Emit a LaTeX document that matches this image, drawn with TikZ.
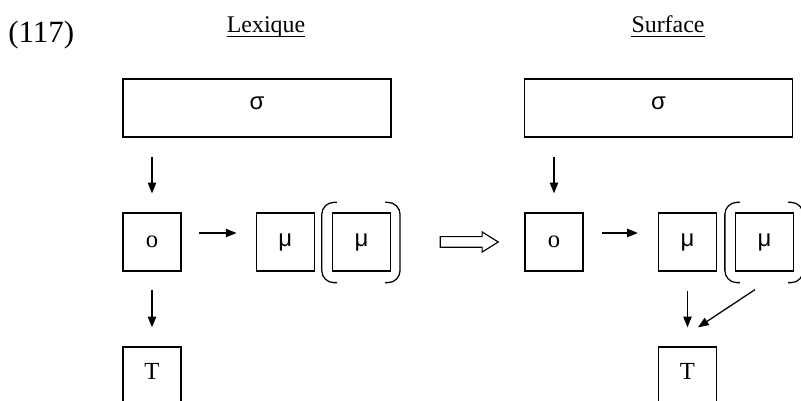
\documentclass[tikz,border=0pt]{standalone}
\usepackage{fontspec}
\setmainfont{Liberation Serif}
\newfontfamily\greekfont{Liberation Sans}
\usetikzlibrary{positioning,arrows.meta,calc,shapes.arrows}

\begin{document}
\begin{tikzpicture}[
      box/.style={draw,line width=0.9pt,minimum width=1.45cm,minimum height=1.45cm,
                  inner sep=0pt,font=\fontsize{17.5}{20}\selectfont},
      sig/.style={box,minimum width=6.7cm,text depth=0.25cm,
                  font=\greekfont\fontsize{17}{20}\selectfont},
      mu/.style={box,font=\greekfont\fontsize{17}{20}\selectfont},
      term/.style={box,text depth=0.22cm},
      colhead/.style={inner sep=0pt,anchor=base,font=\fontsize{17}{20}\selectfont},
      arr/.style={-{Triangle[length=0.27cm,width=0.21cm]},line width=0.9pt},
      brk/.style={line width=0.9pt,rounded corners=0.3cm},
      ul/.style={line width=0.7pt}]
    \useasboundingbox (0,0) rectangle (20.025,-10.025);
    \node[anchor=base west,inner sep=0pt,font=\fontsize{22}{26}\selectfont] (num) at (0.2,-1.075) {(117)};
    \node[colhead] (lex) at (6.65,-0.825) {Lexique};
    \node[colhead] (surf) at (16.7,-0.825) {Surface};
    \draw[ul] ([yshift=-0.075cm]lex.base west) -- ([yshift=-0.075cm]lex.base east);
    \draw[ul] ([yshift=-0.075cm]surf.base west) -- ([yshift=-0.075cm]surf.base east);
    % lexique
    \node[sig] (sigL) at (6.425,-2.7) {σ};
    \node[box] (oL) at (3.8,-6.05) {o};
    \node[mu] (mL1) at (7.13,-6.05) {μ};
    \node[mu] (mL2) at (9.035,-6.05) {μ};
    \node[term] (tL) at (3.8,-9.4) {T};
    \draw[arr,shorten <=0.475cm,shorten >=0.475cm] (sigL.south -| oL.north) -- (oL.north);
    \draw[arr,shorten <=0.425cm,shorten >=0.475cm] ([yshift=0.225cm]oL.east) -- ([yshift=0.225cm]mL1.west);
    \draw[arr,shorten <=0.45cm,shorten >=0.475cm] (oL.south) -- (tL.north);
    % passage
    \node[draw,single arrow,line width=0.8pt,minimum height=1.45cm,inner sep=0pt,
          text height=0.2375cm,text depth=0pt,single arrow head extend=0.12cm,
          single arrow tip angle=64] (impl) at (11.625,-6.05) {};
    % surface
    \node[sig] (sigR) at (16.4625,-2.7) {σ};
    \node[box] (oR) at (13.85,-6.05) {o};
    \node[mu] (mR1) at (17.1875,-6.05) {μ};
    \node[mu] (mR2) at (19.1125,-6.05) {μ};
    \node[term] (tR) at (17.1875,-9.4) {T};
    \draw[arr,shorten <=0.475cm,shorten >=0.475cm] (sigR.south -| oR.north) -- (oR.north);
    \draw[arr,shorten <=0.45cm,shorten >=0.5cm] ([yshift=0.225cm]oR.east) -- ([yshift=0.225cm]mR1.west);
    \draw[arr,shorten <=0.475cm,shorten >=0.475cm] (mR1.south) -- (tR.north);
    \draw[arr] ([shift={(-0.2375,-0.45)}]mR2.south) -- ([shift={(0.2625,0.475)}]tR.north);
    % brackets round the optional mu
    \foreach \n in {mL2,mR2} {
      \draw[brk] ([shift={(0.125,0.25)}]\n.north west) -- ([shift={(-0.25,0.25)}]\n.north west)
        -- ([shift={(-0.25,-0.275)}]\n.south west) -- ([shift={(0.125,-0.275)}]\n.south west);
      \draw[brk] ([shift={(-0.15,0.25)}]\n.north east) -- ([shift={(0.225,0.25)}]\n.north east)
        -- ([shift={(0.225,-0.275)}]\n.south east) -- ([shift={(-0.15,-0.275)}]\n.south east);
    }
  \end{tikzpicture}
\end{document}
